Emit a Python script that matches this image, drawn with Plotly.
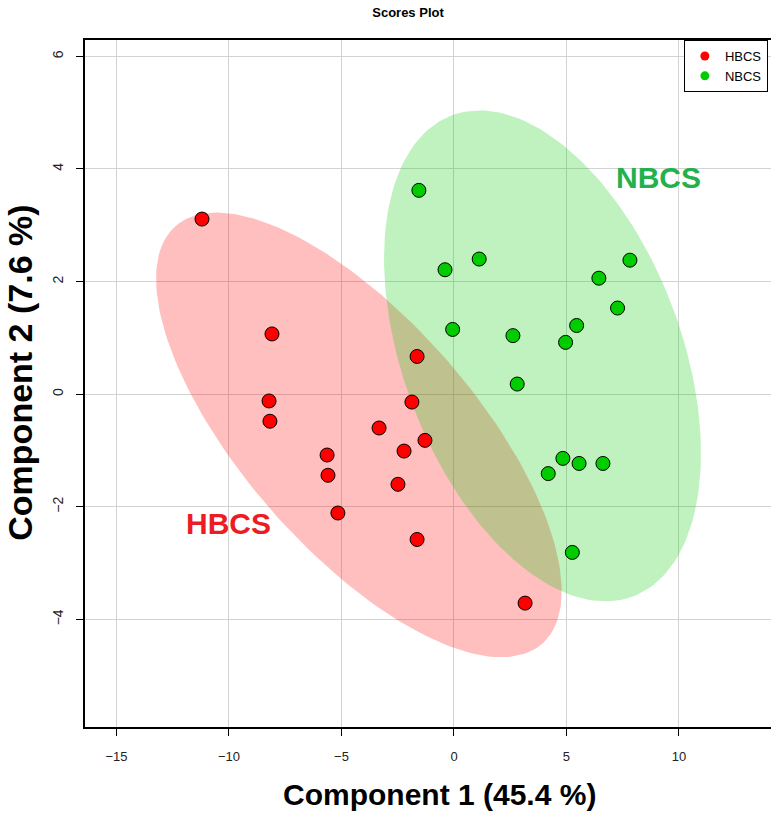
import numpy as np
import plotly.graph_objects as go

# ---- data ----
groups = ["HBCS", "NBCS"]
hbcs_x = [-11.2, -8.09, -8.22, -8.18, -5.64, -5.60, -5.16, -3.33, -2.22, -2.49, -1.64, -1.87, -1.29, -1.64, 3.16]
hbcs_y = [3.11, 1.07, -0.12, -0.48, -1.08, -1.44, -2.11, -0.60, -1.01, -1.60, 0.67, -0.14, -0.82, -2.58, -3.71]
nbcs_x = [-1.56, -0.40, 1.12, -0.06, 2.62, 2.81, 4.96, 5.45, 6.44, 7.82, 7.27, 4.84, 5.56, 6.62, 4.19, 5.26]
nbcs_y = [3.62, 2.21, 2.40, 1.15, 1.04, 0.18, 0.92, 1.22, 2.06, 2.38, 1.53, -1.14, -1.23, -1.23, -1.41, -2.81]
x_ticks = [-15, -10, -5, 0, 5, 10]
y_ticks = [-4, -2, 0, 2, 4, 6]

point_colors = {"HBCS": "#FF0000", "NBCS": "#00CC00"}
fill_colors = {"HBCS": "rgba(255,0,0,0.25)", "NBCS": "rgba(0,204,0,0.25)"}
label_colors = {"HBCS": "#ED1C24", "NBCS": "#22B14C"}

FONT = "Liberation Sans, Arial, sans-serif"


def conf_ellipse(x, y, level_chi2=5.991464547, n=200):
    x = np.asarray(x); y = np.asarray(y)
    cov = np.cov(x, y)
    vals, vecs = np.linalg.eigh(cov)
    t = np.linspace(0, 2 * np.pi, n)
    circ = np.vstack([np.cos(t), np.sin(t)])
    pts = vecs @ (np.sqrt(vals * level_chi2)[:, None] * circ)
    return pts[0] + x.mean(), pts[1] + y.mean()


fig = go.Figure()
data = {"HBCS": (hbcs_x, hbcs_y), "NBCS": (nbcs_x, nbcs_y)}

for g in groups:
    ex, ey = conf_ellipse(*data[g])
    fig.add_trace(go.Scatter(x=ex, y=ey, mode="lines", fill="toself",
                             fillcolor=fill_colors[g], line=dict(width=0),
                             hoverinfo="skip", showlegend=False))

for g in groups:
    gx, gy = data[g]
    fig.add_trace(go.Scatter(x=gx, y=gy, mode="markers", name=g, showlegend=False,
                             marker=dict(size=14, color=point_colors[g],
                                         line=dict(color="black", width=1))))

# legend-only traces
for g in groups:
    fig.add_trace(go.Scatter(x=[None], y=[None], mode="markers", name=g,
                             marker=dict(size=9, color=point_colors[g])))

# group labels
fig.add_annotation(x=-10.0, y=-2.3, text="<b>HBCS</b>", showarrow=False,
                   font=dict(family=FONT, size=30, color=label_colors["HBCS"]))
fig.add_annotation(x=9.1, y=3.84, text="<b>NBCS</b>", showarrow=False,
                   font=dict(family=FONT, size=30, color=label_colors["NBCS"]))

# axis titles
fig.add_annotation(xref="paper", yref="paper", x=0.5165, y=-0.098,
                   text="<b>Component 1 (45.4 %)</b>", showarrow=False,
                   yanchor="middle", font=dict(family=FONT, size=30, color="black"))
fig.add_annotation(xref="paper", yref="paper", x=-0.094, y=0.515,
                   text="<b>Component 2 (7.6 %)</b>", showarrow=False, textangle=-90,
                   xanchor="center", yanchor="middle",
                   font=dict(family=FONT, size=34, color="black"))

fig.update_layout(
    width=771, height=813,
    margin=dict(l=85, r=0, t=40, b=86, autoexpand=False),
    plot_bgcolor="white", paper_bgcolor="white",
    font=dict(family=FONT, color="#222"),
    title=dict(text="<b>Scores Plot</b>", x=408 / 771, y=1 - 12 / 813,
               xanchor="center", yanchor="middle",
               font=dict(family=FONT, size=13, color="black")),
    legend=dict(x=0.873, y=1.0, xanchor="left", yanchor="top",
                bordercolor="black", borderwidth=1, bgcolor="white",
                font=dict(family=FONT, size=13, color="black"),
                itemwidth=30, tracegroupgap=0),
    xaxis=dict(range=[-16.4, 14.09], tickvals=x_ticks, showgrid=True,
               gridcolor="#D3D3D3", gridwidth=1, zeroline=False,
               showline=True, linecolor="black", linewidth=1.5, mirror=True,
               ticks="outside", ticklen=7, tickcolor="black",
               ticklabelstandoff=10, tickfont=dict(size=13, color="#222")),
    yaxis=dict(range=[-5.91, 6.29], tickvals=y_ticks, showgrid=True,
               gridcolor="#D3D3D3", gridwidth=1, zeroline=False,
               showline=True, linecolor="black", linewidth=1.5,
               ticks="outside", ticklen=7, tickcolor="black", tickangle=-90,
               ticklabelstandoff=8, tickfont=dict(size=14, color="#222")),
)

fig.write_html("out.html")
